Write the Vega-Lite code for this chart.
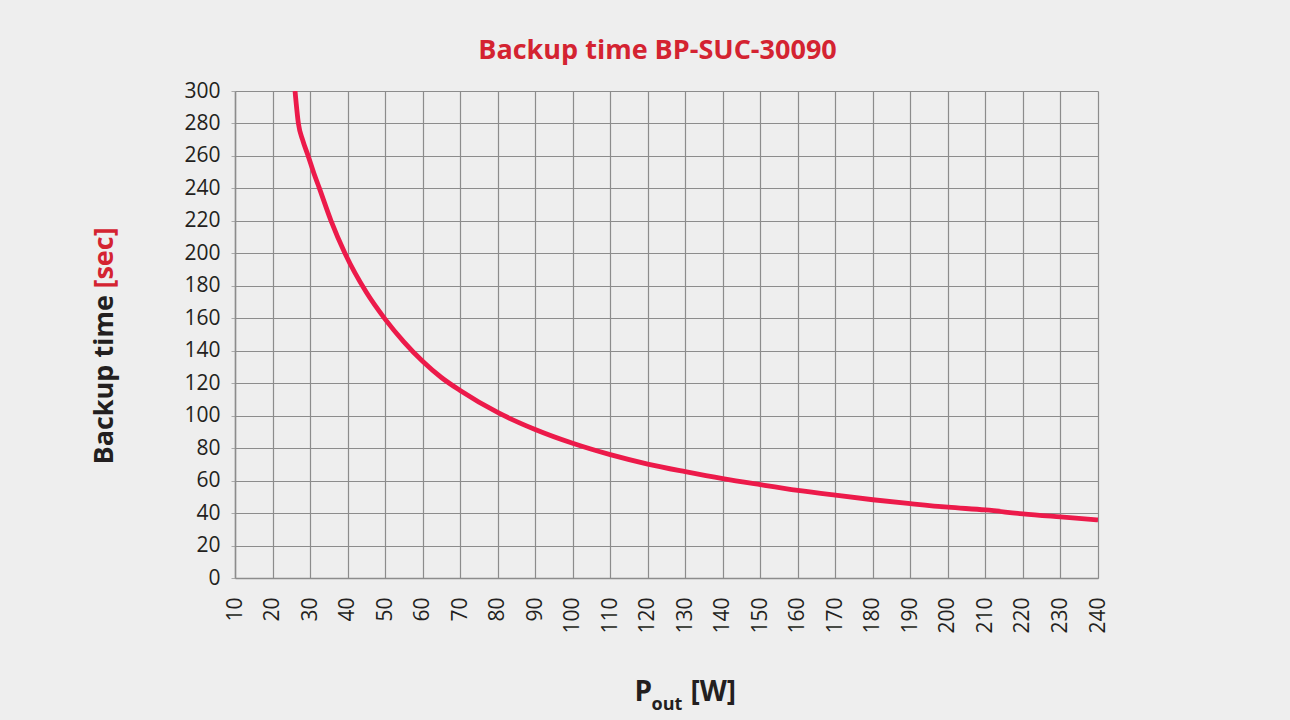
{
  "$schema": "https://vega.github.io/schema/vega-lite/v6.json",
  "width": 863,
  "height": 487,
  "autosize": {"type": "none"},
  "padding": {"left": 235, "top": 91, "right": 192, "bottom": 142},
  "background": "#eeeeee",
  "config": {"view": {"stroke": null, "fill": "#eeeeee"}, "font": "Open Sans"},
  "title": {
    "text": "Backup time BP-SUC-30090",
    "color": "#d42331",
    "fontSize": 27,
    "font": "Open Sans",
    "fontWeight": "bold",
    "frame": "group",
    "anchor": "middle",
    "baseline": "alphabetic",
    "dx": -9,
    "offset": -6
  },
  "data": {
    "values": [
      {"P": 26.0, "T": 300},
      {"P": 26.9, "T": 280},
      {"P": 28.0, "T": 270},
      {"P": 29.5, "T": 260},
      {"P": 31.0, "T": 249.5},
      {"P": 32.5, "T": 240},
      {"P": 35.6, "T": 220},
      {"P": 39.3, "T": 200},
      {"P": 45, "T": 176},
      {"P": 50, "T": 159.5},
      {"P": 55, "T": 145.5},
      {"P": 60, "T": 133.5},
      {"P": 65, "T": 123.5},
      {"P": 70, "T": 115.5},
      {"P": 80, "T": 102},
      {"P": 90, "T": 91.5},
      {"P": 100, "T": 83},
      {"P": 110, "T": 76},
      {"P": 120, "T": 70.2},
      {"P": 130, "T": 65.5},
      {"P": 140, "T": 61.2},
      {"P": 150, "T": 57.5},
      {"P": 160, "T": 54},
      {"P": 170, "T": 51},
      {"P": 180, "T": 48.2},
      {"P": 190, "T": 45.8},
      {"P": 200, "T": 43.6},
      {"P": 210, "T": 41.9},
      {"P": 220, "T": 39.5},
      {"P": 230, "T": 37.6},
      {"P": 240, "T": 35.8}
    ]
  },
  "layer": [
    {
      "mark": {"type": "line", "color": "#ec1a4a", "strokeWidth": 4.8, "interpolate": "monotone", "clip": true},
      "encoding": {
        "x": {
          "field": "P", "type": "quantitative",
          "scale": {"domain": [10, 240], "nice": false, "zero": false},
          "axis": {
            "orient": "bottom",
            "values": [10, 20, 30, 40, 50, 60, 70, 80, 90, 100, 110, 120, 130, 140, 150, 160, 170, 180, 190, 200, 210, 220, 230, 240],
            "grid": true, "gridColor": "#8c8c8c", "gridWidth": 1.2,
            "domainColor": "#8c8c8c", "domainWidth": 1.5,
            "ticks": false, "tickSize": 0,
            "labelAngle": -90, "labelFontSize": 21, "labelColor": "#231f20", "labelPadding": 19,
            "labelFont": "Open Sans",
            "title": "P", "titleFont": "Open Sans", "titleFontSize": 28, "titleFontWeight": "bold", "titleColor": "#231f20",
            "titleX": 399, "titleY": 122, "titleAlign": "left", "titleBaseline": "alphabetic"
          }
        },
        "y": {
          "field": "T", "type": "quantitative",
          "scale": {"domain": [0, 300], "nice": false},
          "axis": {
            "orient": "left",
            "values": [0, 20, 40, 60, 80, 100, 120, 140, 160, 180, 200, 220, 240, 260, 280, 300],
            "grid": true, "gridColor": "#8c8c8c", "gridWidth": 1.2,
            "domainColor": "#8c8c8c", "domainWidth": 1.5,
            "ticks": true, "tickSize": 4, "tickColor": "#aaaaaa",
            "labelFontSize": 21, "labelColor": "#231f20", "labelPadding": 11, "labelFont": "Open Sans",
            "title": "Backup time", "titleFont": "Open Sans", "titleFontSize": 27, "titleFontWeight": "bold", "titleColor": "#231f20",
            "titleAngle": -90, "titleX": -123, "titleY": 373, "titleAlign": "left", "titleBaseline": "alphabetic"
          }
        }
      }
    },
    {
      "mark": {"type": "line", "strokeOpacity": 0, "opacity": 0},
      "encoding": {
        "x": {
          "field": "P", "type": "quantitative",
          "axis": {
            "orient": "bottom", "grid": false, "labels": false, "ticks": false, "domain": false,
            "title": "out", "titleFont": "Open Sans", "titleFontSize": 18, "titleFontWeight": "bold", "titleColor": "#231f20",
            "titleX": 416, "titleY": 131, "titleAlign": "left", "titleBaseline": "alphabetic"
          }
        },
        "y": {
          "field": "T", "type": "quantitative",
          "axis": {
            "orient": "left", "grid": false, "labels": false, "ticks": false, "domain": false,
            "title": "[sec]", "titleFont": "Open Sans", "titleFontSize": 27, "titleFontWeight": "bold", "titleColor": "#d42331",
            "titleAngle": -90, "titleX": -123, "titleY": 197, "titleAlign": "left", "titleBaseline": "alphabetic"
          }
        }
      }
    },
    {
      "mark": {"type": "line", "strokeOpacity": 0, "opacity": 0},
      "encoding": {
        "x": {
          "field": "P", "type": "quantitative",
          "axis": {
            "orient": "bottom", "grid": false, "labels": false, "ticks": false, "domain": false,
            "title": "[W]", "titleFont": "Open Sans", "titleFontSize": 28, "titleFontWeight": "bold", "titleColor": "#231f20",
            "titleX": 455, "titleY": 122, "titleAlign": "left", "titleBaseline": "alphabetic"
          }
        },
        "y": {"field": "T", "type": "quantitative", "axis": null}
      }
    }
  ],
  "resolve": {"axis": {"x": "independent", "y": "independent"}}
}
